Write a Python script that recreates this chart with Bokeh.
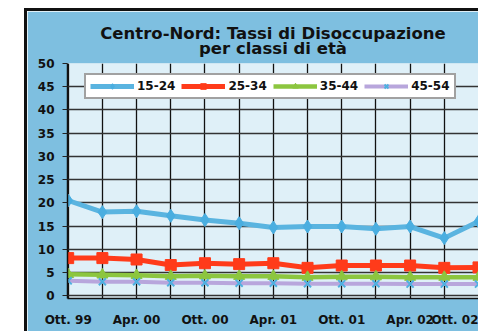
from bokeh.plotting import figure
from bokeh.models import Range1d, FixedTicker, Legend, LegendItem, Spacer
from bokeh.layouts import row, column
from bokeh.embed import file_html
from bokeh.resources import INLINE

# ---- data ----
periods = ["Ott. 99", "Gen. 00", "Apr. 00", "Lug. 00", "Ott. 00", "Gen. 01", "Apr. 01",
           "Lug. 01", "Ott. 01", "Gen. 02", "Apr. 02", "Lug. 02", "Ott. 02"]
tick_labels = ["Ott. 99", "Apr. 00", "Ott. 00", "Apr. 01", "Ott. 01", "Apr. 02", "Ott. 02"]
age_15_24 = [20.5, 18.0, 18.2, 17.2, 16.3, 15.6, 14.7, 14.9, 14.9, 14.4, 14.9, 12.4, 16.0]
age_25_34 = [8.1, 8.1, 7.8, 6.6, 7.0, 6.8, 7.0, 6.0, 6.5, 6.5, 6.5, 6.0, 6.1]
age_35_44 = [4.6, 4.5, 4.4, 4.2, 4.3, 4.2, 4.2, 4.0, 4.1, 4.1, 4.0, 4.0, 4.0]
age_45_54 = [3.2, 3.0, 3.0, 2.8, 2.8, 2.7, 2.7, 2.6, 2.6, 2.6, 2.5, 2.5, 2.5]
y_ticks = [0, 5, 10, 15, 20, 25, 30, 35, 40, 45, 50]
title_lines = ["Centro-Nord: Tassi di Disoccupazione", "per classi di età"]

x = list(range(len(periods)))

FONT = "DejaVu Sans"
FRAME_W = 411
FRAME_H = 235

p = figure(frame_width=FRAME_W, frame_height=FRAME_H, output_backend="svg", toolbar_location=None,
           x_range=Range1d(-0.02, 12.0), y_range=Range1d(-0.6, 50),
           min_border_left=40, min_border_right=0, min_border_top=52, min_border_bottom=33)

p.border_fill_color = "#7ebfe0"
p.background_fill_color = "#dff0f8"
p.outline_line_color = None

# title: two centred lines
p.title.text = "\n".join(title_lines)
p.title.align = "center"
try:
    p.title.text_align = "center"
except Exception:
    pass
p.title.text_font = FONT
p.title.text_font_size = "16.5px"
p.title.text_font_style = "bold"
p.title.text_color = "#111111"
p.title.text_line_height = 0.75
p.title.standoff = 12

# grids
p.xgrid.ticker = FixedTicker(ticks=x)
p.xgrid.grid_line_color = "#111111"
p.xgrid.grid_line_width = 1.3
p.ygrid.ticker = FixedTicker(ticks=y_ticks)
p.ygrid.grid_line_color = "#333333"
p.ygrid.grid_line_width = 1.6

# axes
p.xaxis.ticker = FixedTicker(ticks=x[::2])
p.xaxis.major_label_overrides = {i: lab for i, lab in zip(x[::2], tick_labels)}
p.yaxis.ticker = FixedTicker(ticks=y_ticks)
for ax in (p.xaxis, p.yaxis):
    ax.major_label_text_font = FONT
    ax.major_label_text_font_size = "12px"
    ax.major_label_text_font_style = "bold"
    ax.major_label_text_color = "#111111"
    ax.minor_tick_line_color = None
    ax.axis_line_color = "#111111"
    ax.axis_line_width = 1.5
p.xaxis.major_tick_line_color = None
p.xaxis.major_tick_in = 0
p.xaxis.major_tick_out = 0
p.xaxis.major_label_standoff = 14
p.yaxis.major_tick_in = 0
p.yaxis.major_tick_out = 5
p.yaxis.major_tick_line_color = "#222222"
p.yaxis.major_label_standoff = 8

# series
series = [
    ("15-24", age_15_24, "#5ab4e0", "diamond", "#4aaee0", 13, 5),
    ("25-34", age_25_34, "#ff3b1a", "square", "#ff3b1a", 11, 5),
    ("35-44", age_35_44, "#8cc63f", "triangle", "#8cc63f", 11, 4.5),
    ("45-54", age_45_54, "#b8a6dc", "x", "#4fb0e0", 10, 4),
]
items = []
for name, vals, lc, mk, mc, ms, lw in series:
    r1 = p.line(x, vals, line_color=lc, line_width=lw)
    r2 = p.scatter(x, vals, marker=mk, size=ms, fill_color=mc, line_color=mc,
                   line_width=2 if mk == "x" else 1)
    items.append(LegendItem(label=name, renderers=[r1, r2]))

legend = Legend(items=items, orientation="horizontal", location=(17, FRAME_H - 12 - 24))
legend.label_text_font = FONT
legend.label_text_font_size = "12px"
legend.label_text_font_style = "bold"
legend.label_text_color = "#111111"
legend.background_fill_color = "white"
legend.background_fill_alpha = 1
legend.border_line_color = "#444444"
legend.border_line_width = 2
legend.padding = 4
legend.spacing = 6
legend.margin = 0
legend.glyph_width = 44
legend.glyph_height = 14
legend.label_height = 14
legend.label_standoff = 3
p.add_layout(legend, "center")

# white gaps, then black frame edges (left and top) around the blue panel
black = {"background-color": "#111111"}
left_gap = Spacer(width=24, height=331)
top_gap = Spacer(width=454, height=8)
top_bar = Spacer(width=454, height=3, styles=black)
left_bar = Spacer(width=3, height=320, styles=black)
layout = row(left_gap,
             column(top_gap, top_bar, row(left_bar, p, spacing=0), spacing=0),
             spacing=0)

open("out.html", "w").write(file_html(layout, INLINE))
